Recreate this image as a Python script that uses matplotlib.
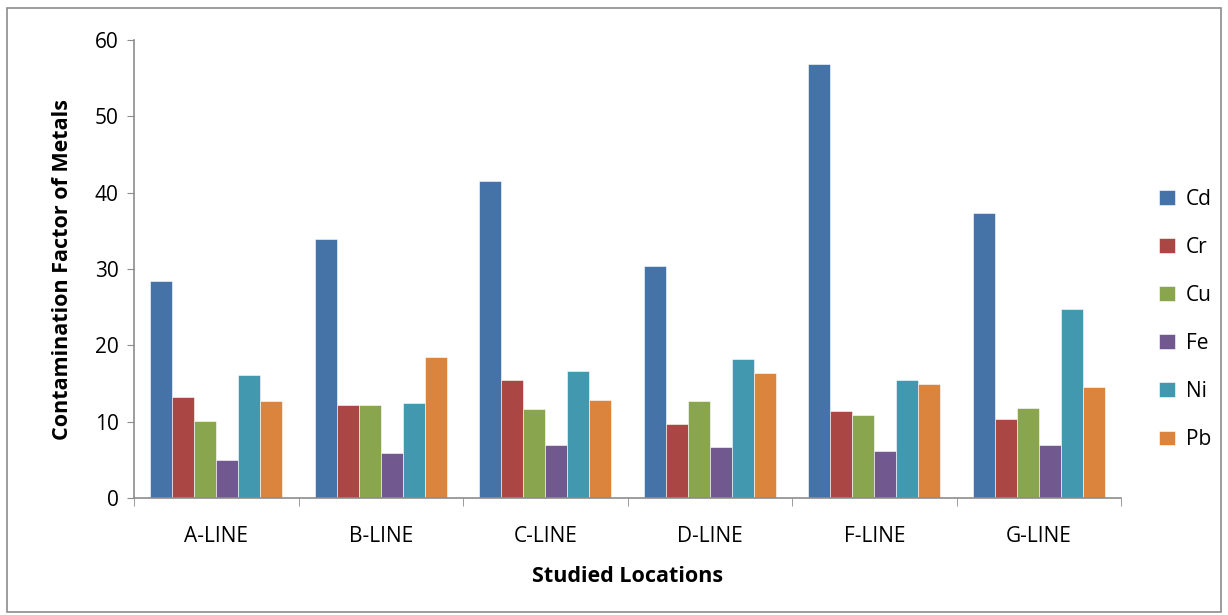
import matplotlib
matplotlib.use("Agg")
import matplotlib.pyplot as plt
import numpy as np
from matplotlib.patches import Rectangle

# data
locations = ["A-LINE", "B-LINE", "C-LINE", "D-LINE", "F-LINE", "G-LINE"]
metals = ["Cd", "Cr", "Cu", "Fe", "Ni", "Pb"]
cd = [28.4, 33.9, 41.5, 30.4, 56.9, 37.4]
cr = [13.2, 12.2, 15.4, 9.7, 11.4, 10.4]
cu = [10.05, 12.2, 11.7, 12.75, 10.9, 11.75]
fe = [5.0, 5.9, 6.9, 6.7, 6.2, 6.9]
ni = [16.1, 12.4, 16.6, 18.2, 15.5, 24.8]
pb = [12.7, 18.5, 12.9, 16.4, 15.0, 14.6]
series = [cd, cr, cu, fe, ni, pb]
colors = ["#4572A7", "#AA4643", "#89A54E", "#71588F", "#4198AF", "#DB843D"]

plt.rcParams['font.family'] = ['Open Sans', 'DejaVu Sans']

fig = plt.figure(figsize=(12.28, 6.15), dpi=100)
ax = fig.add_axes([134/1228, 1-498/615, (1121-134)/1228, (498-40)/615])

#outer chart border
fig.patches.append(Rectangle((7/1228, 3/615), 1214/1228, 604/615, transform=fig.transFigure,
                             fill=False, edgecolor="#8c8c8c", linewidth=1.2))

x = np.arange(len(locations))
w = 0.8/6
for i in range(6):
    ax.bar(x - 0.4 + w*(i+0.5), series[i], w, color=colors[i], edgecolor="white",
           linewidth=0.4, label=metals[i])

ax.set_xlim(-0.5, len(locations)-0.5)
ax.set_ylim(0, 60)
ax.set_yticks(range(0, 61, 10))
ax.set_xticks(x)
ax.set_xticklabels(locations, fontsize=15)
ax.tick_params(axis='x', length=0, pad=20)
ax.tick_params(axis='y', labelsize=15, length=5, color="#8c8c8c", pad=6)
# minor ticks on category boundaries
ax.set_xticks(np.arange(-0.5, len(locations), 1), minor=True)
ax.tick_params(axis='x', which='minor', length=6, color="#8c8c8c")

for s in ["top", "right"]:
    ax.spines[s].set_visible(False)
for s in ["left", "bottom"]:
    ax.spines[s].set_color("#8c8c8c")
    ax.spines[s].set_linewidth(1.2)

ax.set_xlabel("Studied Locations", fontsize=15.5, fontweight="bold", labelpad=14)
ax.set_ylabel("Contamination Factor of Metals", fontsize=15.5, fontweight="bold", labelpad=16)

leg = ax.legend(loc="center left", bbox_to_anchor=(1.02, 0.39), frameon=False, fontsize=15,
                handlelength=0.75, handleheight=0.7, labelspacing=1.3, handletextpad=0.5)

fig.savefig("out.png", dpi=100)
